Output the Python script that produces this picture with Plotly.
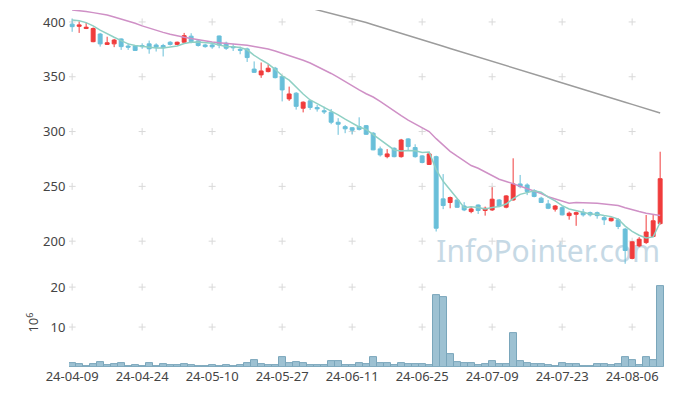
import plotly.graph_objects as go
from plotly.subplots import make_subplots

dates = [
    "24-04-09", "24-04-11", "24-04-12", "24-04-15", "24-04-16", "24-04-17", "24-04-18", "24-04-19",
    "24-04-22", "24-04-23", "24-04-24", "24-04-25", "24-04-26", "24-04-29", "24-04-30",
    "24-05-02", "24-05-03", "24-05-07", "24-05-08", "24-05-09", "24-05-10", "24-05-13", "24-05-14",
    "24-05-16", "24-05-17", "24-05-20", "24-05-21", "24-05-22", "24-05-23", "24-05-24", "24-05-27",
    "24-05-28", "24-05-29", "24-05-30", "24-05-31",
    "24-06-03", "24-06-04", "24-06-05", "24-06-07", "24-06-10", "24-06-11", "24-06-12", "24-06-13",
    "24-06-14", "24-06-17", "24-06-18", "24-06-19", "24-06-20", "24-06-21", "24-06-24", "24-06-25",
    "24-06-26", "24-06-27", "24-06-28",
    "24-07-01", "24-07-02", "24-07-03", "24-07-04", "24-07-05", "24-07-08", "24-07-09", "24-07-10",
    "24-07-11", "24-07-12", "24-07-15", "24-07-16", "24-07-17", "24-07-18", "24-07-19", "24-07-22",
    "24-07-23", "24-07-24", "24-07-25", "24-07-26", "24-07-29", "24-07-30", "24-07-31",
    "24-08-01", "24-08-02", "24-08-05", "24-08-06", "24-08-07", "24-08-08", "24-08-09", "24-08-12",
]

opens = [398, 396, 394, 382, 389, 379.5, 380, 384.5, 378, 378, 378.4, 380, 379, 378.5, 381.5,
         379.5, 381.5, 387, 382.7, 379, 379, 387.2, 380.6, 377.5, 375, 375.4, 357, 351.7, 354.7, 357.8,
         350, 329.8, 335, 321.3, 328, 322, 319, 317.7, 308.5, 304.5, 303.5, 304.5, 305.4, 298.5, 284.2,
         277.1, 284.8, 277.1, 293.3, 285.4, 277.8, 270, 277.1, 238.6, 235.3, 237.6, 232.1, 227, 233, 228,
         228.5, 237.6, 231, 237.6, 252.2, 251.3, 246.2, 239.2, 234, 229.2, 230.6, 223.3, 224.5, 226.4, 226,
         226, 221.5, 218.6, 219.5, 211, 184.3, 195.7, 198.7, 204.3, 216]
highs = [403, 400.5, 399.5, 395, 390, 386.5, 384.5, 385, 380.5, 378.5, 380.5, 383, 380.5, 380, 382.5,
         382, 390, 389.7, 383.5, 380, 381.5, 387.5, 382, 380, 377.5, 376.5, 364, 363, 361.5, 359,
         351, 341, 336, 327.5, 328.8, 324.3, 322.7, 320.6, 312.2, 306, 304, 313, 306, 299.5, 286.3,
         284, 285.5, 293.3, 294, 288.4, 278.5, 280, 278, 261.2, 240.7, 238, 235.6, 231.5, 233.5, 231.5,
         249.2, 238.5, 242, 275.6, 260.4, 252.8, 247.5, 240.5, 237.6, 233, 232, 227, 227, 229.4, 227,
         227, 223, 221.5, 221, 212, 199.8, 203.7, 223.9, 224, 281.6]
lows = [391, 390, 393.5, 381.5, 377.5, 379, 377, 374.5, 374.5, 373.5, 375.5, 371, 373, 368.5, 378.5,
        379, 380, 380.5, 377.5, 376.5, 375.5, 376, 374.5, 373.5, 370.5, 363.5, 353.5, 349, 354, 348.5,
        327.5, 328, 320, 317.5, 319.8, 318.2, 316, 306.7, 297, 298.5, 297.6, 301, 297, 283, 277.2,
        275.6, 276.5, 276.2, 282.3, 276.2, 271, 269.5, 208.8, 229.2, 230, 230.5, 227.4, 225.5, 224.8, 223.3,
        227.6, 231, 230, 237, 248.3, 242, 240, 235, 229.2, 227, 223.5, 219.6, 214, 222.4, 222.5,
        220.5, 214.8, 218, 211, 179.4, 183.5, 194.5, 197.5, 203.7, 215.1]
closes = [395.7, 397.3, 395.2, 394, 380, 381, 383.5, 377.5, 377, 374, 377.5, 375.5, 377, 376.5, 379.5,
          381.5, 387.5, 382, 378.5, 377.5, 377.3, 379, 376, 376.5, 374.2, 367.5, 354, 355.3, 357.8, 349.2,
          338, 334.3, 323, 326.8, 322, 320.7, 318, 308.5, 306.7, 302.5, 301.2, 302, 297.5, 283.3, 278.7,
          279.6, 277.1, 292.3, 286.3, 277.1, 271.8, 279.6, 211.8, 232.5, 239.8, 230.9, 228.5, 229.4, 228, 230,
          238.3, 232.1, 241.3, 252.2, 249.8, 245.3, 240.8, 235.3, 230, 232.1, 224, 225.5, 226, 224, 224,
          223.3, 219.5, 221, 213.4, 191.5, 199.4, 201.8, 208.4, 218.6, 257]

# volume in millions of shares
volumes = [0.9, 0.67, 0.17, 0.67, 1.17, 0.5, 0.67, 0.9, 0.25, 0.42, 0.17, 0.9, 0.17, 0.67, 0.42,
           0.42, 0.67, 0.42, 0.17, 0.17, 0.42, 0.17, 0.42, 0.17, 0.42, 0.9, 1.67, 0.67, 0.42, 0.42,
           2.4, 0.9, 1.17, 0.9, 0.42, 0.42, 0.42, 1.4, 1.4, 0.42, 0.42, 0.9, 0.67, 2.4, 0.9,
           0.9, 0.42, 0.9, 0.67, 0.67, 0.67, 0.42, 18.0, 17.4, 3.2, 1.17, 0.9, 0.9, 0.42, 0.67,
           1.5, 0.67, 0.67, 8.4, 1.5, 0.9, 0.67, 0.67, 0.42, 0.17, 0.9, 0.67, 0.67, 0.17, 0.17,
           0.67, 0.67, 0.42, 0.67, 2.4, 1.75, 0.42, 2.4, 1.75, 20.25]

ma5 = [401.8, 401, 399.4, 396.4, 392.5, 389, 386, 383, 380, 378.6, 377.9, 376.6, 376.3, 376.2, 377.2,
       378, 380.4, 381.5, 381.8, 381.4, 380.6, 378.9, 377.7, 377.3, 376.6, 374.6, 369.6, 365.5, 361.8, 356.8,
       350.9, 346.9, 340.5, 334.3, 328.8, 325.4, 322.1, 319.2, 315.2, 311.3, 307.4, 304.2, 302, 297.3, 292.5,
       288.2, 283.2, 282.2, 282.8, 282.5, 280.9, 281.4, 265.3, 254.6, 247.1, 238.9, 230.5, 231.5, 230.8, 229.4,
       230.8, 231.6, 233.9, 238.8, 242.7, 244.1, 245.9, 244.7, 240.2, 236.7, 232.4, 229.4, 227.5, 226.3, 224.7,
       224.6, 223.4, 222.4, 220.2, 213.7, 209, 205.4, 202.9, 203.9, 217]
ma20 = [411, 410.5, 409.5, 408.5, 407.5, 406.3, 404.5, 402.8, 401, 398.8, 396.4, 394.2, 392.2, 390.5, 388.8,
        387.2, 386, 385, 383.8, 382.8, 381.8, 381, 380.4, 380, 379.5, 378.7, 377.5, 376.5, 375.3, 373.5,
        371.5, 369.5, 367.2, 365, 362.5, 359.5, 356.5, 353, 349.5, 345.5, 341.5, 338, 334.5, 331.5, 327.5,
        323, 318.5, 314.5, 310.5, 307, 303.5, 300, 293.5, 287.5, 282, 277.5, 273, 269, 266.5, 263,
        259.5, 256.5, 254.5, 252.2, 250.2, 248, 246, 243.5, 240.5, 238.5, 236.5, 234.6, 235.3, 235.2, 234.9,
        234.5, 234, 233.3, 232.5, 230.5, 228.5, 227, 225.5, 224.3, 223.5]
ma60 = [None] * 33 + [
    414.3, 412.7, 411.1, 409.5, 407.8, 406.3, 404.6, 403, 401.4, 399.5, 397.4, 395.5,
    393.5, 391.6, 389.6, 387.7, 385.7, 383.8, 381.8, 379.8, 377.9, 375.8, 373.9, 371.9, 370, 368, 366.1,
    364.1, 362.2, 360.2, 358.2, 356.2, 354.2, 352.3, 350.3, 348.4, 346.4, 344.5, 342.5, 340.6, 338.6, 336.6,
    334.7, 332.7, 330.7, 328.8, 326.8, 324.8, 322.9, 320.9, 319, 317]

price_ticks = [200, 250, 300, 350, 400]
vol_ticks = [10, 20]
x_ticks = dates[::10]

RED = "#f03c3c"
BLUE = "#69bfd9"
GRID = "#d9d9d9"
FRAME = "#e4e4e4"
FONT = "Noto Sans"
TXT = "#444444"

fig = make_subplots(rows=2, cols=1, shared_xaxes=True, vertical_spacing=0,
                    row_heights=[0.751, 0.249])

# candles first so they define the category order
fig.add_trace(go.Candlestick(x=dates, open=opens, high=highs, low=lows, close=closes,
                             increasing=dict(line=dict(color=RED, width=1), fillcolor=RED),
                             decreasing=dict(line=dict(color=BLUE, width=1), fillcolor=BLUE),
                             whiskerwidth=0, hoverinfo="skip"), row=1, col=1)

# watermark (below everything)
fig.add_trace(go.Scatter(x=[dates[68]], y=[188], mode="text", text=["InfoPointer.com"],
                         textposition="middle center",
                         textfont=dict(family=FONT, size=30, color="#c6d9e5"),
                         hoverinfo="skip", cliponaxis=False, zorder=-2), row=1, col=1)

# grid crosses
fig.add_trace(go.Scatter(x=[d for d in x_ticks for _ in price_ticks],
                         y=price_ticks * len(x_ticks), mode="markers",
                         marker=dict(symbol="cross-thin", size=5, line=dict(color=GRID, width=1)),
                         hoverinfo="skip", zorder=-1), row=1, col=1)
fig.add_trace(go.Scatter(x=[d for d in x_ticks for _ in vol_ticks],
                         y=vol_ticks * len(x_ticks), mode="markers",
                         marker=dict(symbol="cross-thin", size=5, line=dict(color=GRID, width=1)),
                         hoverinfo="skip", zorder=-1), row=2, col=1)

fig.add_trace(go.Scatter(x=dates, y=ma60, mode="lines", line=dict(color="#9c9c9c", width=1.5),
                         hoverinfo="skip"), row=1, col=1)
fig.add_trace(go.Scatter(x=dates, y=ma20, mode="lines", line=dict(color="#cf90c6", width=1.5),
                         hoverinfo="skip"), row=1, col=1)
fig.add_trace(go.Scatter(x=dates, y=ma5, mode="lines", line=dict(color="#8fd0c4", width=1.5),
                         hoverinfo="skip"), row=1, col=1)

fig.add_trace(go.Bar(x=dates, y=volumes,
                     marker=dict(color="#9dc1d2", line=dict(color="#7aa6bb", width=1)),
                     hoverinfo="skip"), row=2, col=1)

xr = [-0.45, len(dates) - 1 + 0.55]
fig.update_layout(
    width=657, height=380,
    margin=dict(l=61, r=1, t=2, b=21),
    paper_bgcolor="white", plot_bgcolor="white",
    showlegend=False, bargap=0, boxgap=0.2,
    font=dict(family=FONT, size=13, color=TXT),
    xaxis=dict(type="category", categoryorder="array", categoryarray=dates, range=xr,
               showticklabels=False, showgrid=False, zeroline=False,
               showline=True, mirror=True, linecolor=FRAME, ticks="",
               rangeslider=dict(visible=False)),
    xaxis2=dict(type="category", categoryorder="array", categoryarray=dates, range=xr,
                tickvals=x_ticks, ticktext=x_ticks, showgrid=False,
                zeroline=False, showline=False, ticks="", tickfont=dict(size=13, color=TXT),
                rangeslider=dict(visible=False)),
    yaxis=dict(range=[166.3, 410.9], tickvals=price_ticks, showgrid=False, zeroline=False,
               showline=True, mirror=True, linecolor=FRAME, ticks="",
               tickfont=dict(size=13, color=TXT)),
    yaxis2=dict(range=[0, 22.25], tickvals=vol_ticks, showgrid=False, zeroline=False,
                showline=True, mirror=True, linecolor=FRAME, ticks="",
                tickfont=dict(size=13, color=TXT),
                title=dict(text="10<sup>6</sup>", font=dict(size=13, color=TXT), standoff=8)),
)

fig.write_html("out.html")
